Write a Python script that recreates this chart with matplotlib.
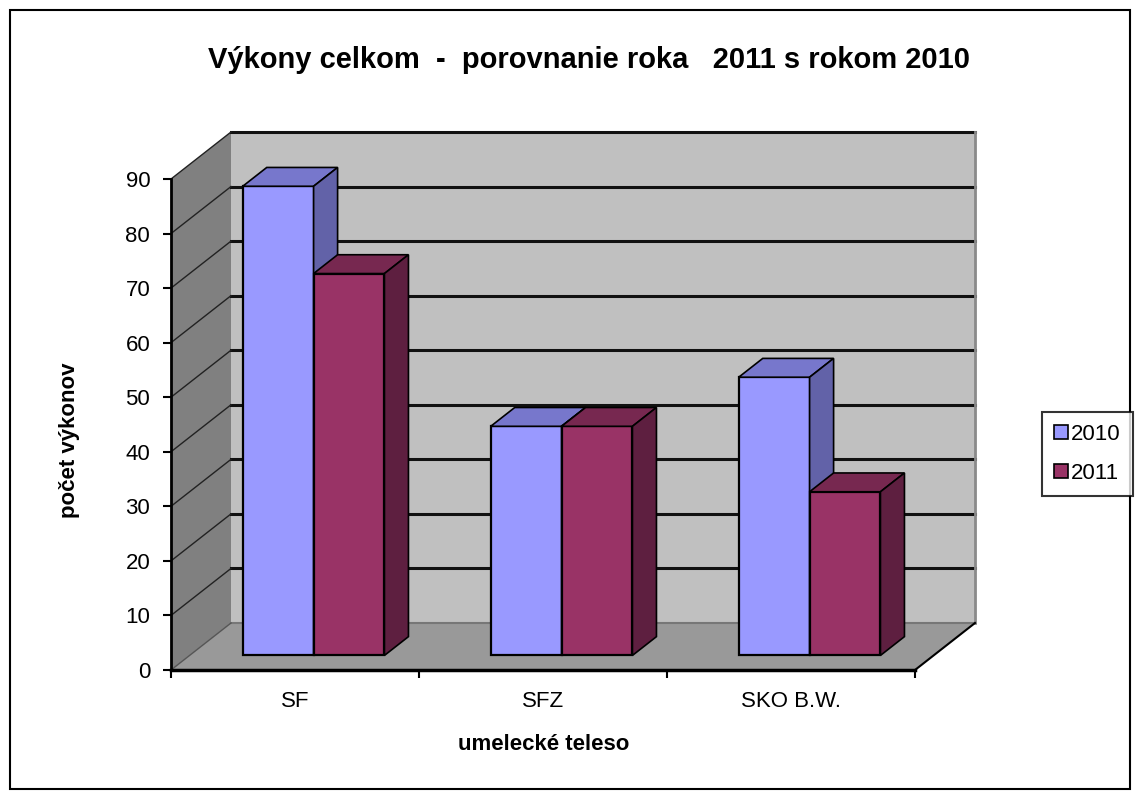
import matplotlib
matplotlib.use("Agg")
import matplotlib.pyplot as plt
from matplotlib.patches import Polygon, Rectangle, Patch

plt.rcParams['font.family'] = ['Liberation Sans', 'DejaVu Sans']

categories = ["SF", "SFZ", "SKO B.W."]
series_names = ["2010", "2011"]
values_2010 = [86, 42, 51]
values_2011 = [70, 42, 30]
y_ticks = [0, 10, 20, 30, 40, 50, 60, 70, 80, 90]

title = "Výkony celkom  -  porovnanie roka   2011 s rokom 2010"
xlabel = "umelecké teleso"
ylabel = "počet výkonov"

front_cols = ["#9999FF", "#993366"]
top_cols = ["#7777CC", "#772850"]
side_cols = ["#6262A8", "#5E1F40"]

W, H = 1139, 798
fig = plt.figure(figsize=(W / 100, H / 100), dpi=100)
fig.patch.set_facecolor("white")

# outer chart border
fig.add_artist(Rectangle((10 / W, 9 / H), 1120 / W, 779 / H, transform=fig.transFigure,
                         fill=False, edgecolor="black", linewidth=1.5))

x0, x1 = 171, 915
y0, y1 = 670, 179
ax = fig.add_axes([x0 / W, (H - y0) / H, (x1 - x0) / W, (y0 - y1) / H])
ymax = y_ticks[-1]
ncat = len(categories)
ax.set_xlim(0, ncat)
ax.set_ylim(0, ymax)
ax.patch.set_visible(False)

px_per_x = (x1 - x0) / ncat
px_per_y = (y0 - y1) / ymax
DX = 60 / px_per_x
DY = 47 / px_per_y


def P(x, y, d):
    return (x + d * DX, y + d * DY)


def poly(pts, fc, ec="none", lw=0, z=1):
    ax.add_patch(Polygon(pts, closed=True, facecolor=fc, edgecolor=ec, linewidth=lw,
                         zorder=z, clip_on=False, joinstyle="miter"))


# walls and floor
poly([P(0, 0, 1), P(ncat, 0, 1), P(ncat, ymax, 1), P(0, ymax, 1)], "#C0C0C0", z=1)
poly([P(0, 0, 0), P(0, 0, 1), P(0, ymax, 1), P(0, ymax, 0)], "#808080", z=1)
poly([P(0, 0, 0), P(ncat, 0, 0), P(ncat, 0, 1), P(0, 0, 1)], "#999999", z=1)

# back wall gridlines and edges
for v in y_ticks[1:]:
    xa, ya = P(0, v, 1)
    xb, yb = P(ncat, v, 1)
    ax.plot([xa, xb], [ya, yb], color="#111111", lw=2.2, zorder=2, clip_on=False)
    xc, yc = P(0, v, 0)
    ax.plot([xc, xa], [yc, ya], color="#222222", lw=1.0, zorder=2, clip_on=False)
xa, ya = P(ncat, 0, 1)
xb, yb = P(ncat, ymax, 1)
ax.plot([xa, xb], [ya, yb], color="#8a8a8a", lw=2, zorder=2, clip_on=False)
xa, ya = P(0, 0, 1)
xb, yb = P(ncat, 0, 1)
ax.plot([xa, xb], [ya, yb], color="#777777", lw=1.5, zorder=2, clip_on=False)
xc, yc = P(0, 0, 0)
ax.plot([xc, xa], [yc, ya], color="#555555", lw=1.0, zorder=2, clip_on=False)
xa, ya = P(ncat, 0, 0)
xb, yb = P(ncat, 0, 1)
ax.plot([xa, xb], [ya, yb], color="black", lw=1.5, zorder=2, clip_on=False)

# bars
nser = 2
gap = 1.5
bw = 1 / (nser + gap)
d0, d1 = 0.31, 0.71
all_vals = [values_2010, values_2011]
z = 3
for i in range(ncat):
    for s in range(nser):
        v = all_vals[s][i]
        xl = i + gap / 2 * bw + s * bw
        xr = xl + bw
        ec = "black"
        poly([P(xl, 0, d0), P(xr, 0, d0), P(xr, v, d0), P(xl, v, d0)], front_cols[s], ec, 1.6, z)
        poly([P(xl, v, d0), P(xr, v, d0), P(xr, v, d1), P(xl, v, d1)], top_cols[s], ec, 1.2, z)
        poly([P(xr, 0, d0), P(xr, 0, d1), P(xr, v, d1), P(xr, v, d0)], side_cols[s], ec, 1.2, z)
        z += 1

# axes lines and ticks
for sp in ["top", "right"]:
    ax.spines[sp].set_visible(False)
ax.spines["left"].set_linewidth(2)
ax.spines["bottom"].set_linewidth(2.5)
ax.spines["left"].set_zorder(20)
ax.spines["bottom"].set_zorder(20)
ax.set_yticks(y_ticks)
ax.set_yticklabels([str(t) for t in y_ticks])
ax.tick_params(axis="y", length=6, width=1.5, pad=9, labelsize=16, direction="out")
ax.set_xticks(range(ncat + 1))
ax.set_xticklabels([])
ax.set_xticks([i + 0.5 for i in range(ncat)], minor=True)
ax.set_xticklabels(categories, minor=True)
ax.tick_params(axis="x", which="major", length=6, width=1.5, direction="out")
ax.tick_params(axis="x", which="minor", length=0, pad=15, labelsize=16)

fig.text(589 / W, 1 - 60 / H, title, ha="center", va="center", fontsize=21, fontweight="bold")
fig.text(544 / W, 1 - 745 / H, xlabel, ha="center", va="center", fontsize=16, fontweight="bold")
fig.text(70 / W, 1 - 440 / H, ylabel, ha="center", va="center", fontsize=16, fontweight="bold",
         rotation=90)

handles = [Patch(facecolor=front_cols[k], edgecolor="black", linewidth=1.2) for k in range(nser)]
leg = fig.legend(handles, series_names, loc="center left",
                 bbox_to_anchor=(1042 / W, 1 - 454 / H), fontsize=16,
                 frameon=True, fancybox=False, edgecolor="black",
                 handlelength=0.6, handleheight=0.6, handletextpad=0.15,
                 labelspacing=0.8, borderpad=0.55, borderaxespad=0)
leg.get_frame().set_linewidth(1.5)

fig.savefig("out.png", dpi=100, facecolor="white")
